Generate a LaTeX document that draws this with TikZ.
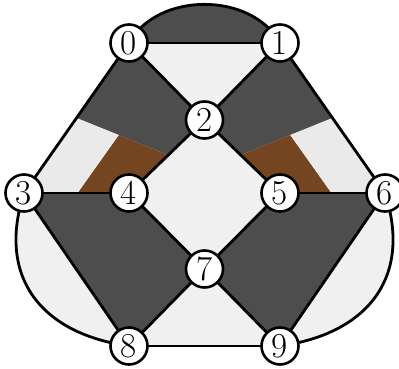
\documentclass[tikz,border=0pt]{standalone}
\usepackage{fontspec}
\usetikzlibrary{calc}
\definecolor{darkf}{RGB}{77,77,77}
\definecolor{lightf}{RGB}{240,240,240}
\definecolor{lightg}{RGB}{234,234,234}
\definecolor{brownf}{RGB}{117,68,32}
\begin{document}
\begin{tikzpicture}[x=1pt,y=1pt,
  vert/.style={circle,draw=black,fill=white,line width=2.6pt,minimum size=37pt,inner sep=0pt,font=\fontsize{35}{35}\selectfont},
  edge/.style={draw=black,line width=2.8pt},
  lcurve/.style={out=-108,in=172,looseness=1.22},
  rcurve/.style={out=-72,in=8,looseness=1.22}]
\useasboundingbox (0,0) rectangle (399,369);
% vertex positions
\coordinate (c0) at (129,326);
\coordinate (c1) at (280,326);
\coordinate (c2) at (204.5,249);
\coordinate (c3) at (24,176);
\coordinate (c4) at (129,176);
\coordinate (c5) at (280,176);
\coordinate (c6) at (385,176);
\coordinate (c7) at (204.5,100);
\coordinate (c8) at (129,23);
\coordinate (c9) at (280,23);
% split points
\coordinate (p1) at ($(c0)!0.5!(c3)$);
\coordinate (p2) at ($(c2)!0.48!(c4)$);
\coordinate (p3) at ($(p1)!0.46!(p2)$);
\coordinate (p4) at ($(c3)!0.51!(c4)$);
\coordinate (q1) at ($(c1)!0.5!(c6)$);
\coordinate (q2) at ($(c2)!0.48!(c5)$);
\coordinate (q3) at ($(q1)!0.46!(q2)$);
\coordinate (q4) at ($(c6)!0.51!(c5)$);
% faces
\fill[darkf] (c0) to[out=61,in=119] (c1) -- cycle;
\fill[lightf] (c0) -- (c1) -- (c2) -- cycle;
\fill[lightf] (c2) -- (c4) -- (c7) -- (c5) -- cycle;
\fill[lightf] (c7) -- (c8) -- (c9) -- cycle;
\fill[lightf] (c3) to[lcurve] (c8) -- cycle;
\fill[lightf] (c6) to[rcurve] (c9) -- cycle;
\fill[darkf] (c3) -- (c4) -- (c7) -- (c8) -- cycle;
\fill[darkf] (c5) -- (c6) -- (c9) -- (c7) -- cycle;
\fill[darkf] (c0) -- (c2) -- (p2) -- (p1) -- cycle;
\fill[brownf] (p2) -- (c4) -- (p4) -- (p3) -- cycle;
\fill[lightg] (p3) -- (p4) -- (c3) -- (p1) -- cycle;
\fill[darkf] (c1) -- (c2) -- (q2) -- (q1) -- cycle;
\fill[brownf] (q2) -- (c5) -- (q4) -- (q3) -- cycle;
\fill[lightg] (q3) -- (q4) -- (c6) -- (q1) -- cycle;
% edges
\path[edge] (c0) -- (c1);
\path[edge] (c0) to[out=61,in=119] (c1);
\path[edge] (c0) -- (c2);
\path[edge] (c1) -- (c2);
\path[edge] (c0) -- (c3);
\path[edge] (c1) -- (c6);
\path[edge] (c2) -- (c4);
\path[edge] (c2) -- (c5);
\path[edge] (c3) -- (c4);
\path[edge] (c5) -- (c6);
\path[edge] (c4) -- (c7);
\path[edge] (c5) -- (c7);
\path[edge] (c3) -- (c8);
\path[edge] (c3) to[lcurve] (c8);
\path[edge] (c6) -- (c9);
\path[edge] (c6) to[rcurve] (c9);
\path[edge] (c7) -- (c8);
\path[edge] (c7) -- (c9);
\path[edge] (c8) -- (c9);
% vertices
\node[vert] (n0) at (c0) {0};
\node[vert] (n1) at (c1) {1};
\node[vert] (n2) at (c2) {2};
\node[vert] (n3) at (c3) {3};
\node[vert] (n4) at (c4) {4};
\node[vert] (n5) at (c5) {5};
\node[vert] (n6) at (c6) {6};
\node[vert] (n7) at (c7) {7};
\node[vert] (n8) at (c8) {8};
\node[vert] (n9) at (c9) {9};
\end{tikzpicture}
\end{document}
